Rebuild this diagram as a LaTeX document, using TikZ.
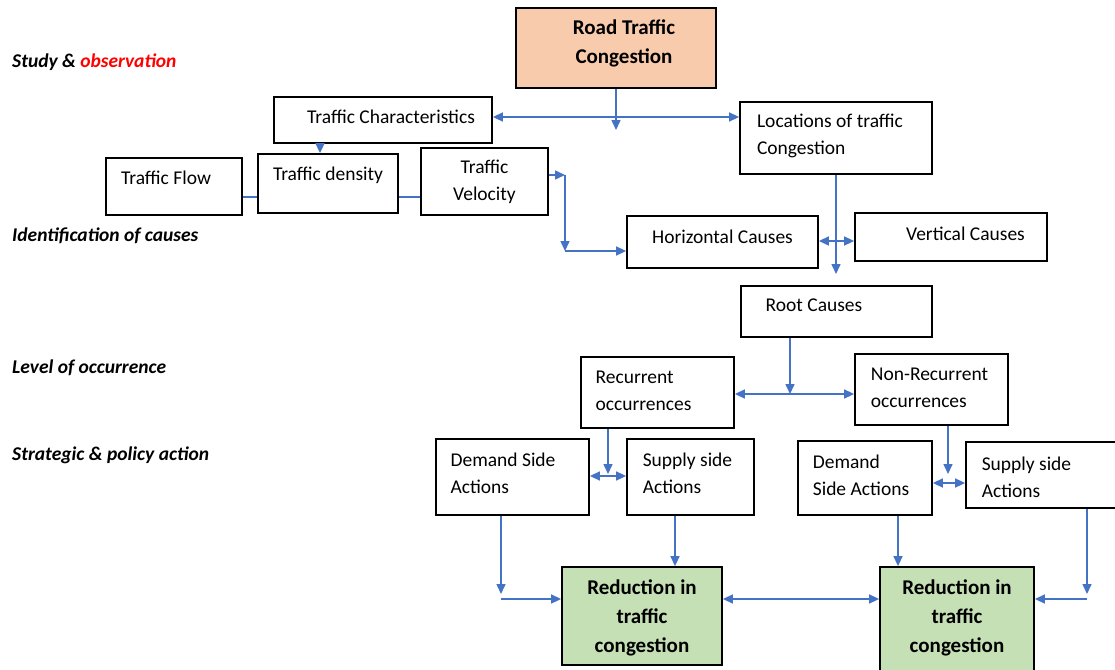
\documentclass[tikz,border=0pt]{standalone}
\usepackage{fontspec}
\setmainfont{Carlito}
\usetikzlibrary{arrows.meta}
\definecolor{linkblue}{HTML}{4472C4}
\definecolor{peach}{HTML}{F8CBAD}
\definecolor{lightgreen}{HTML}{C5E0B4}

\begin{document}
\begin{tikzpicture}[x=1pt,y=-1pt,
    box/.style={draw=black, line width=1.8pt, fill=white, inner sep=0pt},
    txt/.style={font=\fontsize{19.5}{27}\selectfont, align=left},
    bold/.style={font=\fontsize{21}{29}\selectfont\bfseries, align=center},
    stage/.style={anchor=west, inner sep=0pt, font=\fontsize{19.5}{22}\selectfont\bfseries\itshape},
    arr/.style={draw=linkblue, line width=1.5pt, -{Triangle[length=10pt,width=9pt]}},
    dbl/.style={draw=linkblue, line width=1.5pt, {Triangle[length=10pt,width=9pt]}-{Triangle[length=10pt,width=9pt]}},
    ln/.style={draw=linkblue, line width=1.2pt}]
      \fill[white] (0,0) rectangle (1115,669);
      \useasboundingbox (0,0) rectangle (1115,669);

      % stages
      \node[stage] (s1) at (12,62) {Study \& \textcolor{red}{observation}};
      \node[stage] (s2) at (12,236) {Identification of causes};
      \node[stage] (s3) at (12,368) {Level of occurrence};
      \node[stage] (s4) at (12,455) {Strategic \& policy action};

      % boxes
      \node[box, fill=peach, minimum width=200, minimum height=80,
        label={[bold,xshift=8pt,yshift=4.5pt]center:Road Traffic\\Congestion}] (road) at (616,48) {};
      \node[box, minimum width=218, minimum height=46,
        label={[txt,xshift=8pt,yshift=3pt]center:Traffic Characteristics}] (chars) at (383,120) {};
      \node[box, minimum width=192, minimum height=72,
        label={[txt,xshift=-6pt,yshift=2.5pt]center:Locations of traffic\\Congestion}] (loc) at (836,138) {};
      \node[box, minimum width=136, minimum height=57,
        label={[txt,xshift=-8pt,yshift=8.5pt]center:Traffic Flow}] (flow) at (174,186.5) {};
      \node[box, minimum width=140, minimum height=59,
        label={[txt,yshift=8.5pt]center:Traffic density}] (density) at (328,183.5) {};
      \node[box, minimum width=127, minimum height=67,
        label={[txt,align=center]center:Traffic\\Velocity}] (velocity) at (484.5,181.5) {};
      \node[box, minimum width=191, minimum height=52,
        label={[txt,yshift=5pt]center:Horizontal Causes}] (horiz) at (722.5,242) {};
      \node[box, minimum width=192, minimum height=48,
        label={[txt,xshift=14.5pt,yshift=3pt]center:Vertical Causes}] (vert) at (951,237) {};
      \node[box, minimum width=191, minimum height=51,
        label={[txt,xshift=-22.5pt,yshift=6.5pt]center:Root Causes}] (root) at (836.5,311.5) {};
      \node[box, minimum width=153, minimum height=71,
        label={[txt,xshift=-14pt,yshift=1.5pt]center:Recurrent\\occurrences}] (recur) at (657.5,392.5) {};
      \node[box, minimum width=153, minimum height=71,
        label={[txt,xshift=-2pt,yshift=1.5pt]center:Non-Recurrent\\occurrences}] (nonrec) at (931.5,389.5) {};
      \node[box, minimum width=153, minimum height=76,
        label={[txt,xshift=-9.5pt,yshift=4pt]center:Demand Side\\Actions}] (dem1) at (512.5,477) {};
      \node[box, minimum width=127, minimum height=76,
        label={[txt,xshift=-3pt,yshift=4pt]center:Supply side\\Actions}] (sup1) at (690.5,477) {};
      \node[box, minimum width=134, minimum height=74,
        label={[txt,xshift=-4pt,yshift=3pt]center:Demand\\Side Actions}] (dem2) at (865,478) {};
      \node[box, minimum width=156, minimum height=66,
        label={[txt,xshift=-17.5pt,yshift=-2pt]center:Supply side\\Actions}] (sup2) at (1044,475) {};
      \node[box, fill=lightgreen, minimum width=160, minimum height=98,
        label={[bold,yshift=-2pt]center:Reduction in\\traffic\\congestion}] (red1) at (642,616) {};
      \node[box, fill=lightgreen, minimum width=154, minimum height=105,
        label={[bold,yshift=1.5pt]center:Reduction in\\traffic\\congestion}] (red2) at (957,619.5) {};

      % junctions
      \coordinate (j1) at (616,130);
      \coordinate (j2) at (616,117);
      \coordinate (j3) at (320,150);
      \coordinate (j4) at (250,197);
      \coordinate (j5) at (565,175);
      \coordinate (j6) at (565,251);
      \coordinate (j7) at (836,274);
      \coordinate (j8) at (836,241);
      \coordinate (j9) at (790,394);
      \coordinate (j10) at (608,474);
      \coordinate (j11) at (948,474);
      \coordinate (j12) at (501,599);
      \coordinate (j13) at (675,540);
      \coordinate (j14) at (898,540);
      \coordinate (j15) at (1087,599);

      % connectors
      \draw[dbl] (chars.east |- j2) -- (loc.west |- j2);
      \draw[arr] (road.south) -- (j1);
      \draw[arr] (chars.south -| j3) -- (density.north -| j3);
      \draw[ln] (flow.east |- j4) -- (density.west |- j4);
      \draw[ln] (density.east |- j4) -- (velocity.west |- j4);
      \draw[arr] (velocity.east |- j5) -- (j5);
      \draw[arr] (j5) -- (j6);
      \draw[arr] (j6) -- (horiz.west |- j6);
      \draw[arr] (loc.south) -- (j7);
      \draw[dbl] (horiz.east |- j8) -- (vert.west |- j8);
      \draw[arr] (root.south -| j9) -- (j9);
      \draw[dbl] (recur.east |- j9) -- (nonrec.west |- j9);
      \draw[arr] (recur.south -| j10) -- (j10);
      \draw[dbl] ([yshift=-2pt]dem1.east |- j10) -- ([yshift=-2pt]sup1.west |- j10);
      \draw[arr] (nonrec.south -| j11) -- (j11);
      \draw[dbl] ([yshift=-9pt]dem2.east |- j11) -- ([yshift=-9pt]sup2.west |- j11);
      \draw[arr] (dem1.south -| j12) -- ([yshift=5pt]j12);
      \draw[arr] (j12) -- (red1.west |- j12);
      \draw[arr] (sup1.south -| j13) -- (red1.north -| j13);
      \draw[dbl] (red1.east |- j12) -- (red2.west |- j12);
      \draw[arr] (dem2.south -| j14) -- (red2.north -| j14);
      \draw[arr] (sup2.south -| j15) -- ([yshift=5pt]j15);
      \draw[arr] (j15) -- (red2.east |- j15);
\end{tikzpicture}
\end{document}
